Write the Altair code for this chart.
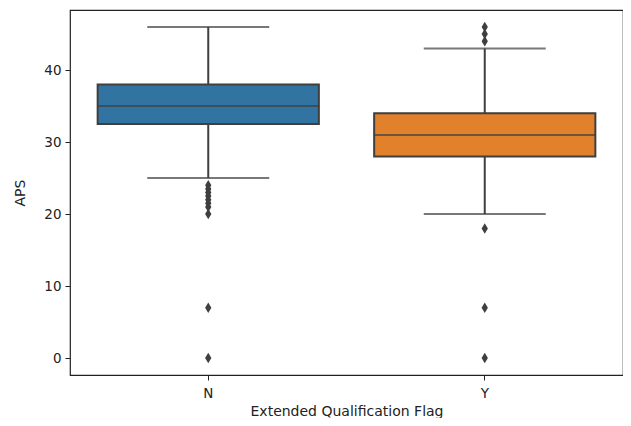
import altair as alt
import pandas as pd

categories = ["N", "Y"]
q1 = [32.5, 28.0]
median = [35.0, 31.0]
q3 = [38.0, 34.0]
whisker_low = [25.0, 20.0]
whisker_high = [46.0, 43.0]
colors = ["#3274a1", "#e1812c"]
outliers_N = [24, 23.5, 23, 22.5, 22, 21.5, 21, 20, 7, 0]
outliers_Y = [46, 45, 44, 18, 7, 0]

box = pd.DataFrame({
    "flag": categories, "q1": q1, "median": median, "q3": q3,
    "lo": whisker_low, "hi": whisker_high,
})
out = pd.DataFrame({
    "flag": ["N"] * len(outliers_N) + ["Y"] * len(outliers_Y),
    "APS": outliers_N + outliers_Y,
})

LINE = "#3f3f3f"
xs = alt.Scale(domain=categories, paddingInner=0, paddingOuter=0)
ys = alt.Scale(domain=[-2.35, 48.35], nice=False, zero=False)
x = alt.X("flag:N", scale=xs, title="Extended Qualification Flag",
          axis=alt.Axis(labelAngle=0))
y_axis = alt.Axis(values=[0, 10, 20, 30, 40], grid=False)

base = alt.Chart(box)
upper = base.mark_rule(color=LINE, strokeWidth=2).encode(
    x=x, y=alt.Y("q3:Q", scale=ys, title="APS", axis=y_axis), y2="hi:Q")
lower = base.mark_rule(color=LINE, strokeWidth=2).encode(
    x=x, y=alt.Y("lo:Q", scale=ys), y2="q1:Q")
caps_hi = base.mark_tick(color=LINE, size=122, thickness=2).encode(
    x=x, y=alt.Y("hi:Q", scale=ys))
caps_lo = base.mark_tick(color=LINE, size=122, thickness=2).encode(
    x=x, y=alt.Y("lo:Q", scale=ys))
bars = base.mark_bar(width=alt.RelativeBandSize(0.8), stroke=LINE, strokeWidth=2).encode(
    x=x, y=alt.Y("q1:Q", scale=ys), y2="q3:Q",
    color=alt.Color("flag:N", scale=alt.Scale(domain=categories, range=colors), legend=None))
med = base.mark_tick(color=LINE, size=222, thickness=2).encode(
    x=x, y=alt.Y("median:Q", scale=ys))
pts = alt.Chart(out).mark_point(
    shape="M0,-1L0.6,0L0,1L-0.6,0Z", filled=True, color=LINE, opacity=1, size=110
).encode(x=x, y=alt.Y("APS:Q", scale=ys))

chart = alt.layer(upper, lower, caps_hi, caps_lo, bars, med, pts).properties(
    width=553, height=365,
    autosize=alt.AutoSizeParams(type="none"),
    padding={"left": 62, "top": 2, "right": 0, "bottom": 43},
).configure_view(stroke="#222", strokeWidth=1.2).configure_axis(
    domain=False, tickColor="#222", tickSize=5, labelFont="DejaVu Sans",
    titleFont="DejaVu Sans", labelFontSize=13.5, titleFontSize=14,
    titleFontWeight="normal", labelColor="#222", titleColor="#222", labelPadding=4,
).configure_axisY(titlePadding=16).configure_axisX(titlePadding=5, labelPadding=6)

chart.save("out.html", embed_options={"renderer": "svg", "actions": False})
